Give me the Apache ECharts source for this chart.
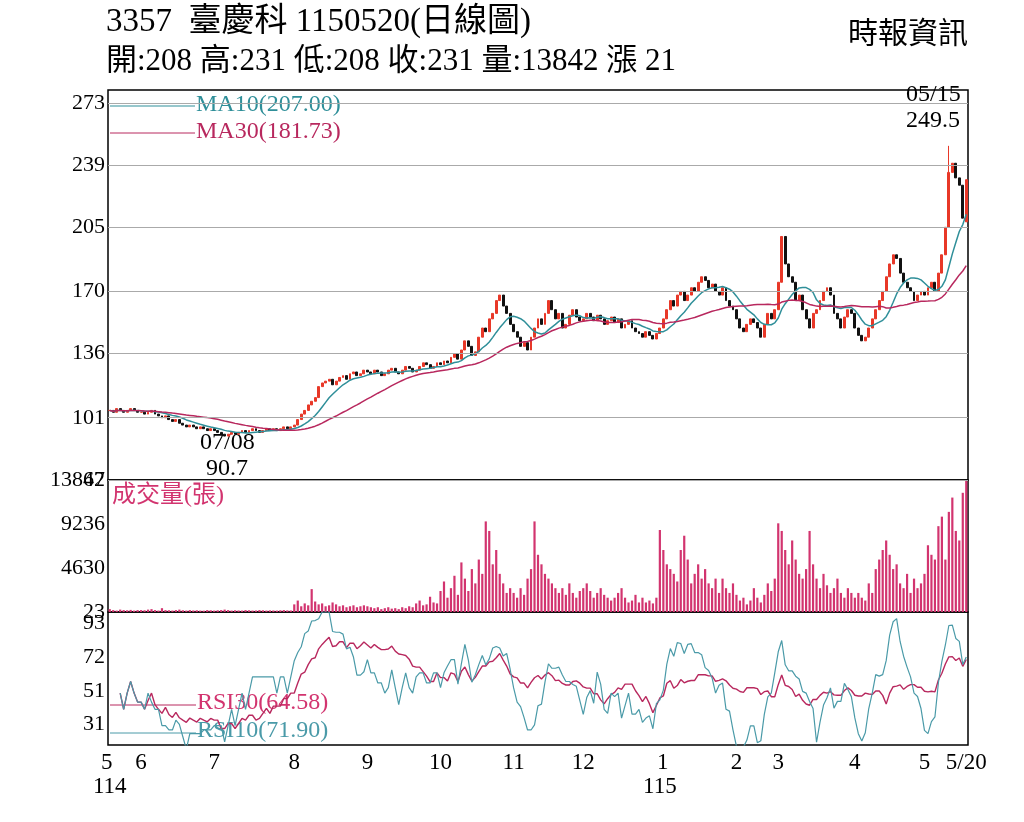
<!DOCTYPE html><html><head><meta charset="utf-8">
<script src="https://cdn.jsdelivr.net/npm/echarts@6/dist/echarts.min.js"></script>
<style>body{margin:0;background:#fff}#c{width:1024px;height:822px}</style></head><body><div id="c"></div>
<script>
const monthNames=['5','6','7','8','9','10','11','12','1','2','3','4','5'];
const closeByMonth=[
[105,104,106,105,104,105,106,105,104],
[104,103,104,105,103,102,101,102,100,99,100,98,97,96,97,96,95,96,95,94,95],
[94,93,92,91,92,93,92,93,94,93,94,95,94,93,94,95,94,95,94,95,96,95,96],
[97,100,103,105,108,110,112,118,120,121,122,119,121,123,124,122,125,126,124,125,127],
[126,125,127,126,124,125,127,128,126,125,127,129,128,126,127,129,131,130,128,129,131],
[130,132,131,134,136,133,138,143,140,135,137,145,150,148,155,158,165,168,162,158,152],
[148,145,140,142,138,145,150,155,152,158,165,160,155,158,150,152,157,160,156,154],
[155,158,156,154,157,155,152,154,156,153,155,150,152,154,150,148,147,145,148,146,144,147],
[150,155,160,165,162,168,170,165,168,172,170,175,178,176,172,174,170,168,172,165,162,160],
[155,150,148,152,155,153,150,145,152,158,155,160],
[175,200,185,178,175,165,168,160,155,150,158,160,165,170,172,168,158,155,150,156,160,158],
[150,146,143,145,150,155,160,165,170,178,185,190,188,180,175,172,170,165,168,170],
[168,172,175,170,180,190,205,235,240,232,228,210,231]];
const volByMonth=[
[300,200,150,250,200,180,220,150,200],
[200,180,250,300,200,150,400,200,180,150,200,250,180,150,200,160,180,150,140,200,180],
[150,180,200,250,200,150,180,160,150,200,180,150,160,200,180,150,170,160,150,180,200,170,160],
[800,1200,600,900,700,2400,1100,800,900,600,700,1000,800,600,700,500,600,700,500,600,700],
[600,500,400,500,300,400,500,350,400,300,500,400,600,500,900,1200,700,800,1600,1000,900],
[2200,3200,1500,2500,3800,1800,5200,3500,2200,4500,3000,5500,4000,9500,8500,5000,6500,4000,3000,2000,2500],
[2000,1500,2500,1800,3500,4500,9500,6000,5000,4000,3500,3000,2500,2000,2500,1800,3000,2000,1500,2200],
[2500,3000,2200,1500,2000,2500,1800,1500,1200,1500,2000,2500,1500,1000,1200,1800,1000,1500,1000,1200,900,1500],
[8600,6500,5000,4500,4000,3200,6500,8000,5500,3000,4000,5000,3500,4500,3000,2500,3500,2000,3500,2500,2000,3000],
[1800,1200,1500,800,1200,2500,1500,1000,1800,3000,2200,3500],
[9300,8500,6500,5000,7500,5500,4000,3500,4500,8500,5000,3500,2500,4000,2800,2000,2500,3500,2000,1500,2500,2000],
[1500,2000,1500,1200,3000,2000,4500,5500,6500,7500,6000,4500,5000,3000,2500,4000,2000,3500,2500,3000],
[4000,7000,6000,5500,9000,10000,5500,10500,12000,8500,7500,12500,13842]];
const priceTicks=[67,101,136,170,205,239,273];
const volTicks=[23,4630,9236,13842];
const rsiTicks=[31,51,72,93];
const specialHigh={'12_7':249.5};
const lastOpen=208;

const closes=[],vols=[],cats=[],monthStart={};
closeByMonth.forEach((m,mi)=>{monthStart[closes.length]=mi;m.forEach((c,di)=>{closes.push(c);vols.push(volByMonth[mi][di]);cats.push(mi+'_'+di);});});
const N=closes.length;
const candles=closes.map((c,i)=>{let o=i?closes[i-1]:c;if(i===N-1)o=lastOpen;let lo=Math.min(o,c),hi=Math.max(o,c);if(specialHigh[cats[i]])hi=specialHigh[cats[i]];return [o,c,lo,hi];});
function ma(n){return closes.map((c,i)=>{const s=closes.slice(Math.max(0,i-n+1),i+1);return +(s.reduce((a,b)=>a+b,0)/s.length).toFixed(2);});}
function rsi(n){return closes.map((c,i)=>{if(i<3)return null;let g=0,l=0;for(let k=Math.max(1,i-n+1);k<=i;k++){const d=closes[k]-closes[k-1];if(d>0)g+=d;else l-=d;}return g+l===0?50:+(100*g/(g+l)).toFixed(2);});}
const serif='"Liberation Serif","Noto Sans CJK TC",serif';
function tickLines(ticks,show){return {symbol:'none',silent:true,animation:false,lineStyle:{color:show?'#aaa':'rgba(0,0,0,0)',width:1,type:'solid'},
 label:{show:true,position:'start',formatter:p=>String(p.value),color:'#000',fontSize:22,fontFamily:serif,distance:3},data:ticks.map(v=>({yAxis:v}))};}
const xa=(g,show)=>({type:'category',gridIndex:g,data:cats,boundaryGap:true,axisTick:{show:false},axisLine:{show:false},
 axisLabel:{show:show,interval:(i)=>monthStart[i]!==undefined||i===N-1,fontSize:23,fontFamily:serif,color:'#000',margin:6,lineHeight:24,
 formatter:(v,i)=>{if(i===N-1)return '5/20';const mi=monthStart[i];if(mi===0)return '5 \n114';if(mi===8)return ' 1\n115';return monthNames[mi];}}});
const ch=echarts.init(document.getElementById('c'));
ch.setOption({animation:false,
grid:[{left:108,right:56,top:90,height:390,show:true,borderColor:'#000',borderWidth:1.5},
{left:108,right:56,top:480,height:132,show:true,borderColor:'#000',borderWidth:1.5},
{left:108,right:56,top:612,height:133,show:true,borderColor:'#000',borderWidth:1.5}],
xAxis:[xa(0,false),xa(1,false),xa(2,true)],
yAxis:[{gridIndex:0,min:67,max:280,axisLabel:{show:false},splitLine:{show:false},axisLine:{show:false},axisTick:{show:false}},
{gridIndex:1,min:0,max:13842,axisLabel:{show:false},splitLine:{show:false},axisLine:{show:false},axisTick:{show:false}},
{gridIndex:2,min:18,max:100,axisLabel:{show:false},splitLine:{show:false},axisLine:{show:false},axisTick:{show:false}}],
series:[
{type:'candlestick',data:candles,barWidth:2.4,itemStyle:{color:'#e83828',color0:'#111',borderColor:'#e83828',borderColor0:'#111'},markLine:tickLines(priceTicks,true)},
{type:'line',data:ma(10),symbol:'none',lineStyle:{color:'#2f8f99',width:1.5}},
{type:'line',data:ma(30),symbol:'none',lineStyle:{color:'#b8285e',width:1.5}},
{type:'bar',xAxisIndex:1,yAxisIndex:1,data:vols,barWidth:2.2,itemStyle:{color:'#d2346f'},markLine:tickLines(volTicks,false)},
{type:'line',xAxisIndex:2,yAxisIndex:2,data:rsi(30),symbol:'none',lineStyle:{color:'#b8285e',width:1.4},markLine:tickLines(rsiTicks,false)},
{type:'line',xAxisIndex:2,yAxisIndex:2,data:rsi(10),symbol:'none',lineStyle:{color:'#4a9aa8',width:1.2}}],
graphic:[
{type:'text',left:106,top:6,style:{text:'3357  臺慶科 1150520(日線圖)',font:'33px '+serif,fill:'#000'}},
{type:'text',left:106,top:46,style:{text:'開:208 高:231 低:208 收:231 量:13842 漲 21',font:'31px '+serif,fill:'#000'}},
{type:'text',right:56,top:20,style:{text:'時報資訊',font:'30px '+serif,fill:'#000'}},
{type:'line',shape:{x1:110,y1:106,x2:195,y2:106},style:{stroke:'#2f8f99',lineWidth:1}},
{type:'text',left:196,top:93,style:{text:'MA10(207.00)',font:'24px '+serif,fill:'#2f8f99'}},
{type:'line',shape:{x1:110,y1:133,x2:195,y2:133},style:{stroke:'#b8285e',lineWidth:1}},
{type:'text',left:196,top:120,style:{text:'MA30(181.73)',font:'24px '+serif,fill:'#b8285e'}},
{type:'text',left:906,top:82,style:{text:'05/15\n249.5',font:'24px '+serif,fill:'#000',lineHeight:26}},
{type:'text',left:200,top:430,style:{text:'07/08\n 90.7',font:'24px '+serif,fill:'#000',lineHeight:26}},
{type:'text',left:112,top:484,style:{text:'成交量(張)',font:'24px '+serif,fill:'#d2346f'}},
{type:'line',shape:{x1:110,y1:705,x2:196,y2:705},style:{stroke:'#b8285e',lineWidth:1}},
{type:'text',left:197,top:691,style:{text:'RSI30(64.58)',font:'24px '+serif,fill:'#d2346f'}},
{type:'line',shape:{x1:110,y1:733,x2:196,y2:733},style:{stroke:'#4a9aa8',lineWidth:1}},
{type:'text',left:197,top:719,style:{text:'RSI10(71.90)',font:'24px '+serif,fill:'#4a9aa8'}}]});
</script></body></html>
